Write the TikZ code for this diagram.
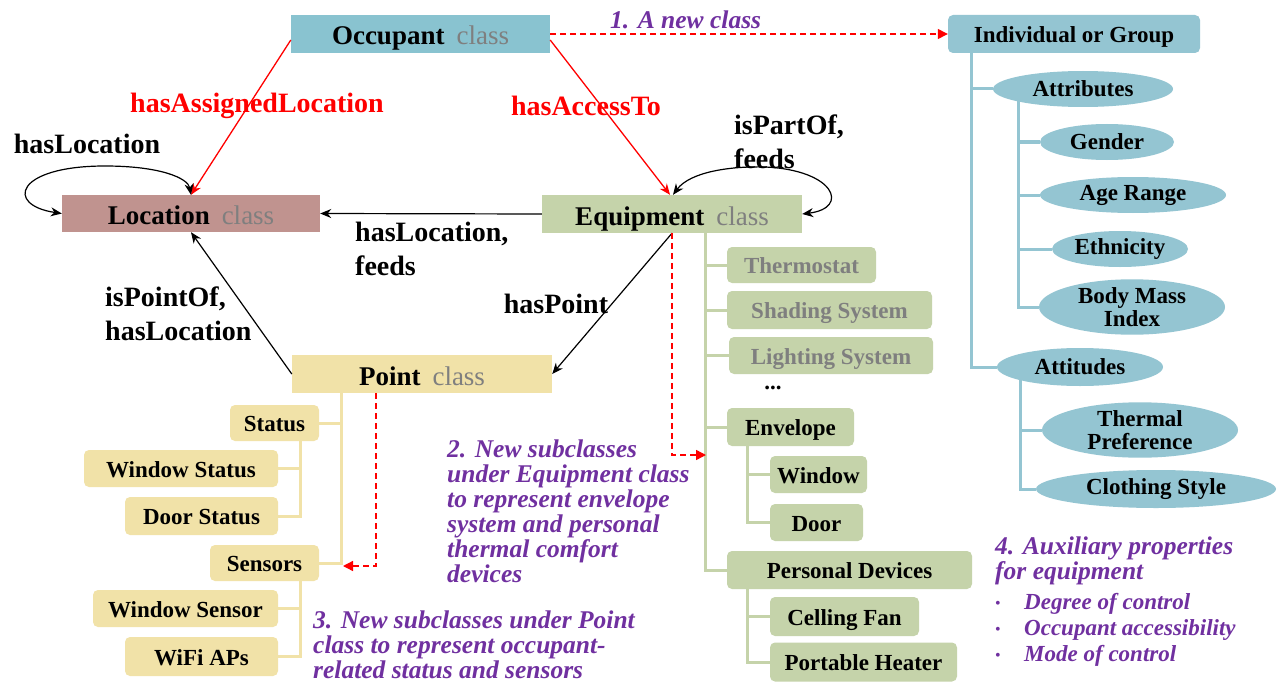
\documentclass[tikz,border=0pt]{standalone}
\usepackage{fontspec}
\setmainfont{Liberation Serif}
\usetikzlibrary{shapes.geometric,arrows.meta}
\pgfdeclarelayer{bg}\pgfsetlayers{bg,main}
\definecolor{occb}{HTML}{89C3D0}
\definecolor{indb}{HTML}{94C5D2}
\definecolor{locr}{HTML}{C0938F}
\definecolor{eqg}{HTML}{C5D3AA}
\definecolor{pty}{HTML}{F1E2A8}
\definecolor{purp}{HTML}{7030A0}
\definecolor{clsgray}{HTML}{7F7F7F}
\newcommand\fsz[2]{\fontsize{#1pt}{#2pt}\selectfont}
\newcommand\bul{\makebox[29pt][l]{\mdseries\upshape\fsz{16}{26}\raisebox{1pt}{•}}}
\begin{document}
\begin{tikzpicture}[x=1pt,y=-1pt,
  cls/.style={fill=#1,inner sep=0pt,minimum height=38pt,text height=22pt,text depth=0pt,font=\fsz{27}{30}\bfseries,text=black},
  itm/.style={fill=#1,rounded corners=5pt,inner sep=0pt,text height=17pt,text depth=0pt,font=\fsz{23}{25}\bfseries,text=black},
  ell/.style={ellipse,fill=indb,inner sep=0pt,font=\fsz{23}{23}\bfseries,align=center},
  lbl/.style={font=\fsz{28}{34}\bfseries,align=left,inner sep=0pt},
  rlbl/.style={lbl,text=red},
  note/.style={font=\fsz{25.5}{25}\bfseries\itshape,text=purp,align=left,inner sep=0pt},
  blk/.style={draw=black,line width=1.2pt,-{Stealth[length=11pt,width=9pt]}},
  blk2/.style={draw=black,line width=1.2pt,{Stealth[length=11pt,width=9pt]}-{Stealth[length=11pt,width=9pt]}},
  redarr/.style={draw=red,line width=1.3pt,-{Stealth[length=11pt,width=9pt]}},
  rdash/.style={draw=red,line width=1.4pt,dash pattern=on 6pt off 4pt,-{Triangle[length=10pt,width=10pt]}},
  gl/.style={draw=eqg,line width=3pt},
  yl/.style={draw=pty,line width=3pt},
  bl/.style={draw=indb,line width=3pt}]
\useasboundingbox (0,0) rectangle (1279,682);

% main classes
\node[cls=occb,minimum width=259pt] (occ) at (420.5,34) {Occupant\hspace{12pt}\mdseries\color{clsgray}class};
\node[cls=locr,minimum width=258pt,minimum height=37pt] (loc) at (191,213.5) {Location\hspace{12pt}\mdseries\color{clsgray}class};
\node[cls=eqg,minimum width=260pt] (equip) at (672,214) {Equipment\hspace{12pt}\mdseries\color{clsgray}class};
\node[cls=pty,minimum width=260pt] (point) at (422,374) {Point\hspace{12pt}\mdseries\color{clsgray}class};

% occupant tree
\node[itm=indb,minimum width=252pt,minimum height=38pt] (ind) at (1074,34) {Individual or Group};
\node[ell,minimum width=180pt,minimum height=36pt] (attr) at (1083,89) {Attributes};
\node[ell,minimum width=134pt,minimum height=36pt] (gen) at (1107,142) {Gender};
\node[ell,minimum width=186pt,minimum height=36pt] (age) at (1133,195) {Age Range};
\node[ell,minimum width=136pt,minimum height=36pt] (eth) at (1120,249) {Ethnicity};
\node[ell,minimum width=186pt,minimum height=54pt] (bmi) at (1132,307) {Body Mass\\Index};
\node[ell,minimum width=166pt,minimum height=38pt] (atti) at (1080,367) {Attitudes};
\node[ell,minimum width=196pt,minimum height=50pt] (thp) at (1140,430) {Thermal\\Preference};
\node[ell,minimum width=240pt,minimum height=38pt] (clo) at (1156,489) {Clothing Style};

% equipment tree
\node[itm=eqg,minimum width=149pt,minimum height=36pt,text=clsgray] (thermo) at (801.5,265) {Thermostat};
\node[itm=eqg,minimum width=205pt,minimum height=38pt,text=clsgray] (shade) at (829.5,310) {Shading System};
\node[itm=eqg,minimum width=204pt,minimum height=37pt,text=clsgray] (light) at (831,355.5) {Lighting System};
\node[font=\fsz{23}{25}\bfseries,inner sep=0pt] (dots) at (773,388) {...};
\node[itm=eqg,minimum width=127pt,minimum height=38pt] (env) at (790.5,427) {Envelope};
\node[itm=eqg,minimum width=97pt,minimum height=37pt] (win) at (818.5,474.5) {Window};
\node[itm=eqg,minimum width=93pt,minimum height=37pt] (door) at (816.5,522.5) {Door};
\node[itm=eqg,minimum width=245pt,minimum height=38pt] (pers) at (849.5,570) {Personal Devices};
\node[itm=eqg,minimum width=149pt,minimum height=39pt] (fan) at (844.5,616.5) {Celling Fan};
\node[itm=eqg,minimum width=187pt,minimum height=39pt] (heat) at (863.5,662) {Portable Heater};

% point tree
\node[itm=pty,minimum width=89pt,minimum height=36pt] (status) at (274.5,423) {Status};
\node[itm=pty,minimum width=194pt,minimum height=37pt] (wstat) at (181,468.5) {Window Status};
\node[itm=pty,minimum width=153pt,minimum height=38pt] (dstat) at (201.5,516) {Door Status};
\node[itm=pty,minimum width=109pt,minimum height=36pt] (sens) at (264.5,563) {Sensors};
\node[itm=pty,minimum width=185pt,minimum height=37pt] (wsens) at (185.5,608.5) {Window Sensor};
\node[itm=pty,minimum width=153pt,minimum height=39pt] (wifi) at (201.5,656.5) {WiFi APs};

\begin{pgfonlayer}{bg}
  \fill[white] (0,0) rectangle (1279,682);
  \draw[bl] ([xshift=24pt]ind.south west) |- (attr.west);
  \draw[bl] ([xshift=24pt]ind.south west) |- (atti.west);
  \draw[bl] ([xshift=-65pt]attr.center) |- (gen.west);
  \draw[bl] ([xshift=-65pt]attr.center) |- (age.west);
  \draw[bl] ([xshift=-65pt]attr.center) |- (eth.west);
  \draw[bl] ([xshift=-65pt]attr.center) |- (bmi.west);
  \draw[bl] ([xshift=-60pt]atti.center) |- (thp.west);
  \draw[bl] ([xshift=-60pt]atti.center) |- (clo.west);
  \draw[gl] ([xshift=164pt]equip.south west) |- (thermo.west);
  \draw[gl] ([xshift=164pt]equip.south west) |- (shade.west);
  \draw[gl] ([xshift=164pt]equip.south west) |- (light.west);
  \draw[gl] ([xshift=164pt]equip.south west) |- (env.west);
  \draw[gl] ([xshift=164pt]equip.south west) |- (pers.west);
  \draw[gl] ([xshift=21pt]env.south west) |- (win.west);
  \draw[gl] ([xshift=21pt]env.south west) |- (door.west);
  \draw[gl] ([xshift=21pt]pers.south west) |- (fan.west);
  \draw[gl] ([xshift=21pt]pers.south west) |- (heat.west);
  \draw[yl] ([xshift=50pt]point.south west) |- (status.east);
  \draw[yl] ([xshift=50pt]point.south west) |- (sens.east);
  \draw[yl] ([xshift=71pt]status.south west) |- (wstat.east);
  \draw[yl] ([xshift=71pt]status.south west) |- (dstat.east);
  \draw[yl] ([xshift=91pt]sens.south west) |- (wsens.east);
  \draw[yl] ([xshift=91pt]sens.south west) |- (wifi.east);
\end{pgfonlayer}

% connectors
\draw[redarr] ([yshift=-6pt]occ.west) -- (loc.north);
\draw[redarr] ([yshift=-6pt]occ.east) -- ([xshift=-2pt]equip.north);
\draw[blk] (equip.west) -- (loc.east);
\draw[blk] (point.west) -- (loc.south);
\draw[blk] (equip.south) -- (point.east);
\draw[blk2] (loc.west) .. controls (5,205) and (15,166) .. (105,166) .. controls (160,166) and (188,178) .. (loc.north);
\draw[blk2] ([xshift=1pt]equip.north) .. controls (690,172) and (730,166) .. (765,167) .. controls (835,170) and (850,208) .. (equip.east);
\draw[rdash] (occ.east) -- (ind.west);
\coordinate (etip) at (706,455);
\coordinate (ptip) at (343,566);
\draw[rdash] (equip.south) |- (etip);
\draw[rdash] ([xshift=84pt]point.south west) |- (ptip);

% labels
\node[rlbl] (l1) at (257,106) {hasAssignedLocation};
\node[rlbl] (l2) at (586,106) {hasAccessTo};
\node[lbl] (l3) at (87,144) {hasLocation};
\node[lbl,anchor=west] (l4) at (734,142) {isPartOf,\\feeds};
\node[lbl,anchor=west] (l5) at (355,249) {hasLocation,\\feeds};
\node[lbl,anchor=west] (l6) at (105,314) {isPointOf,\\hasLocation};
\node[lbl] (l7) at (556,304) {hasPoint};

\node[note,anchor=west] (n1) at (610,20) {1. A new class};
\node[note,anchor=west] (n2) at (447,511) {2. New subclasses\\under Equipment class\\to represent envelope\\system and personal\\thermal comfort\\devices};
\node[note,anchor=west] (n3) at (313,645) {3. New subclasses under Point\\class to represent occupant-\\related status and sensors};
\node[note,anchor=west] (n4) at (995,561) {4. Auxiliary properties\\for equipment};
\node[note,anchor=west,font=\fsz{23}{26}\bfseries\itshape] (n5) at (995,630) {\bul Degree of control\\\bul Occupant accessibility\\\bul Mode of control};
\end{tikzpicture}
\end{document}
